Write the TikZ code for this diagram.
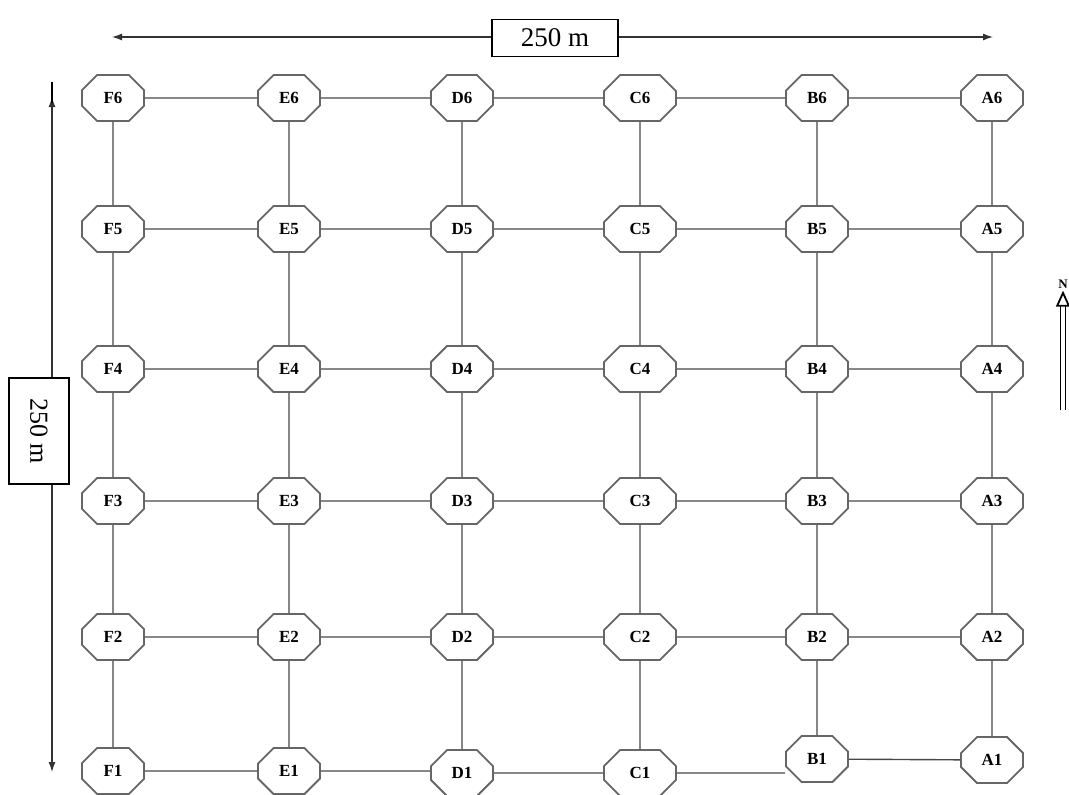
\documentclass[tikz,border=0pt]{standalone}
\usepackage{fontspec}
\setmainfont{Liberation Serif}
\usetikzlibrary{shapes.misc,arrows.meta}
\begin{document}
\begin{tikzpicture}[x=0.5pt, y=-0.5pt,
  plot/.style={chamfered rectangle, chamfered rectangle xsep=5.5pt, chamfered rectangle ysep=5.5pt,
    draw=black!60, line width=0.9pt, fill=white, inner sep=0pt,
    minimum width=31pt, minimum height=23pt, font=\bfseries\fontsize{8.5}{9}\selectfont},
  wide/.style={minimum width=36pt},
  grid/.style={draw=black!72, line width=0.7pt},
  dim/.style={draw=black!80, line width=0.6pt, {Latex[length=5pt,width=3.5pt]}-{Latex[length=5pt,width=3.5pt]}}]
\useasboundingbox (0,0) rectangle (1069,794);
% row 6
\node [plot] (F6) at (113,98) {F6};
\node [plot] (E6) at (289,98) {E6};
\node [plot] (D6) at (462,98) {D6};
\node [plot, wide] (C6) at (640,98) {C6};
\node [plot] (B6) at (817,98) {B6};
\node [plot] (A6) at (992,98) {A6};
% row 5
\node [plot] (F5) at (113,229) {F5};
\node [plot] (E5) at (289,229) {E5};
\node [plot] (D5) at (462,229) {D5};
\node [plot, wide] (C5) at (640,229) {C5};
\node [plot] (B5) at (817,229) {B5};
\node [plot] (A5) at (992,229) {A5};
% row 4
\node [plot] (F4) at (113,369) {F4};
\node [plot] (E4) at (289,369) {E4};
\node [plot] (D4) at (462,369) {D4};
\node [plot, wide] (C4) at (640,369) {C4};
\node [plot] (B4) at (817,369) {B4};
\node [plot] (A4) at (992,369) {A4};
% row 3
\node [plot] (F3) at (113,501) {F3};
\node [plot] (E3) at (289,501) {E3};
\node [plot] (D3) at (462,501) {D3};
\node [plot, wide] (C3) at (640,501) {C3};
\node [plot] (B3) at (817,501) {B3};
\node [plot] (A3) at (992,501) {A3};
% row 2
\node [plot] (F2) at (113,637) {F2};
\node [plot] (E2) at (289,637) {E2};
\node [plot] (D2) at (462,637) {D2};
\node [plot, wide] (C2) at (640,637) {C2};
\node [plot] (B2) at (817,637) {B2};
\node [plot] (A2) at (992,637) {A2};
% row 1
\node [plot] (F1) at (113,771) {F1};
\node [plot] (E1) at (289,771) {E1};
\node [plot] (D1) at (462,773) {D1};
\node [plot, wide] (C1) at (640,773) {C1};
\node [plot] (B1) at (817,759) {B1};
\node [plot] (A1) at (992,760) {A1};
% rows
\draw [grid] (F6) -- (E6) -- (D6) -- (C6) -- (B6) -- (A6);
\draw [grid] (F5) -- (E5) -- (D5) -- (C5) -- (B5) -- (A5);
\draw [grid] (F4) -- (E4) -- (D4) -- (C4) -- (B4) -- (A4);
\draw [grid] (F3) -- (E3) -- (D3) -- (C3) -- (B3) -- (A3);
\draw [grid] (F2) -- (E2) -- (D2) -- (C2) -- (B2) -- (A2);
\draw [grid] (F1) -- (E1.west |- F1);
\draw [grid] (E1) -- (D1.west |- E1);
\draw [grid] (D1) -- (C1);
\draw [grid] (C1) -- (C1 -| B1.west);
\draw [grid] (B1) -- (A1);
% columns
\draw [grid] (F6) -- (F5) -- (F4) -- (F3) -- (F2) -- (F1);
\draw [grid] (E6) -- (E5) -- (E4) -- (E3) -- (E2) -- (E1);
\draw [grid] (D6) -- (D5) -- (D4) -- (D3) -- (D2) -- (D1);
\draw [grid] (C6) -- (C5) -- (C4) -- (C3) -- (C2) -- (C1);
\draw [grid] (B6) -- (B5) -- (B4) -- (B3) -- (B2) -- (B1);
\draw [grid] (A6) -- (A5) -- (A4) -- (A3) -- (A2) -- (A1);
% width
\coordinate (wl) at (112,37);
\coordinate (wr) at (993,37);
\draw [dim] (wl) -- (wr);
\node [draw, fill=white, line width=0.6pt, minimum width=63pt, minimum height=18.5pt, font=\fontsize{13.5}{15}\selectfont] (wbox) at (555,38) {250 m};
% length
\coordinate (lt) at (52,97);
\coordinate (ltick) at (52,82);
\coordinate (lb) at (52,772);
\draw [dim] (lt) -- (lb);
\draw [line width=1.4pt] (ltick) -- ([yshift=-3pt]lt);
\node [draw, fill=white, line width=0.6pt, minimum width=53pt, minimum height=30pt, rotate=-90, font=\fontsize{13}{15}\selectfont] (lbox) at (39,431) {250 m};
% north
\node [font=\bfseries\fontsize{6.5}{7}\selectfont, inner sep=0pt] (north) at (1063,284) {N};
\coordinate (ntail) at (1063,410);
\draw [double=white, double distance=1.6pt, line width=0.9pt, -{Triangle[open, length=8pt, width=7pt, line width=0.9pt]}] (ntail) -- ([yshift=-1pt]north.south);
\end{tikzpicture}
\end{document}
